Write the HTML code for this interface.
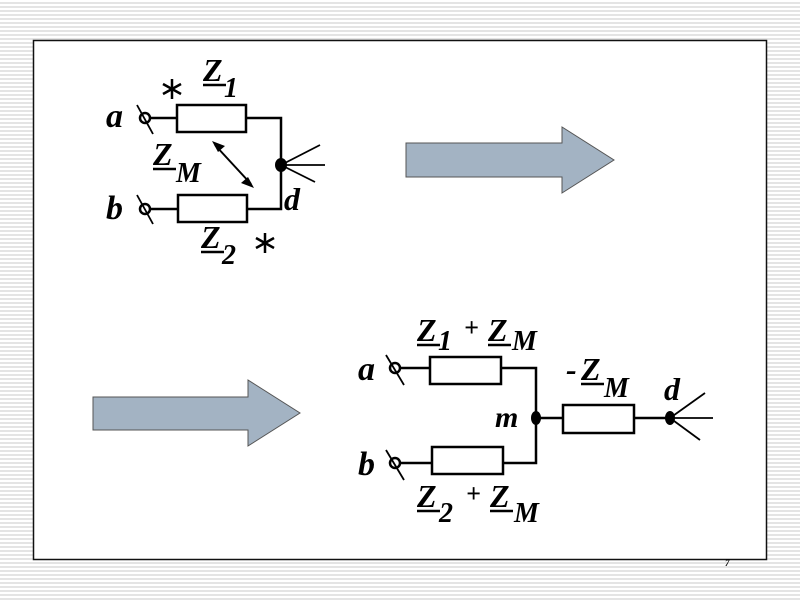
<!DOCTYPE html>
<html><head><meta charset="utf-8"><style>
html,body{margin:0;padding:0}
body{width:800px;height:600px;overflow:hidden;background:repeating-linear-gradient(to bottom,#fff 0,#fff 2px,#e4e4e4 2px,#e4e4e4 4px)}
svg{position:absolute;left:0;top:0}
text{font-family:"Liberation Serif",serif;font-weight:bold;font-style:italic;fill:#000}
</style></head><body>
<svg width="800" height="600" viewBox="0 0 800 600">
<rect x="33.5" y="40.5" width="733" height="519" fill="#fff" stroke="#111" stroke-width="1.5"/>
<g fill="#a3b3c3" stroke="#555" stroke-width="1">
<polygon points="406,143 562,143 562,127 614,160 562,193 562,177 406,177"/>
<polygon points="93,397 248,397 248,380 300,413 248,446 248,430 93,430"/>
</g>
<g stroke="#000" stroke-width="2.5" fill="none">
<line x1="149" y1="118" x2="177" y2="118"/>
<rect x="177" y="105" width="69" height="27" fill="#fff"/>
<polyline points="246,118 281,118 281,209 247,209"/>
<line x1="149" y1="209" x2="178" y2="209"/>
<rect x="178" y="195" width="69" height="27" fill="#fff"/>
<circle cx="145" cy="118" r="5" fill="#fff"/>
<circle cx="145" cy="209" r="5" fill="#fff"/>
<line x1="137" y1="105" x2="153" y2="134" stroke-width="1.8"/>
<line x1="137" y1="195" x2="153" y2="224" stroke-width="1.8"/>
<line x1="281" y1="165" x2="320" y2="145" stroke-width="1.8"/>
<line x1="281" y1="165" x2="325" y2="165" stroke-width="1.8"/>
<line x1="281" y1="165" x2="315" y2="182" stroke-width="1.8"/>
<line x1="215" y1="145" x2="251" y2="184" stroke-width="2"/>
<line x1="399" y1="368" x2="430" y2="368"/>
<rect x="430" y="357" width="71" height="27" fill="#fff"/>
<polyline points="501,368 536,368 536,463 503,463"/>
<line x1="399" y1="463" x2="432" y2="463"/>
<rect x="432" y="447" width="71" height="27" fill="#fff"/>
<line x1="536" y1="418" x2="563" y2="418"/>
<rect x="563" y="405" width="71" height="28" fill="#fff"/>
<line x1="634" y1="418" x2="670" y2="418"/>
<circle cx="395" cy="368" r="5" fill="#fff"/>
<circle cx="395" cy="463" r="5" fill="#fff"/>
<line x1="386" y1="355" x2="404" y2="385" stroke-width="1.8"/>
<line x1="386" y1="450" x2="404" y2="480" stroke-width="1.8"/>
<line x1="670" y1="418" x2="705" y2="393" stroke-width="1.8"/>
<line x1="670" y1="418" x2="713" y2="418" stroke-width="1.8"/>
<line x1="670" y1="418" x2="700" y2="440" stroke-width="1.8"/>
<!-- asterisks -->
<g stroke-width="2.5">
<line x1="172" y1="79" x2="172" y2="99"/><line x1="163" y1="84" x2="181" y2="94"/><line x1="163" y1="94" x2="181" y2="84"/>
<line x1="265" y1="233" x2="265" y2="253"/><line x1="256" y1="238" x2="274" y2="248"/><line x1="256" y1="248" x2="274" y2="238"/>
</g>
<!-- underlines -->
<g stroke-width="2.5">
<line x1="203" y1="85" x2="226" y2="85"/>
<line x1="153" y1="169" x2="176" y2="169"/>
<line x1="201" y1="252" x2="224" y2="252"/>
<line x1="417" y1="345" x2="440" y2="345"/>
<line x1="488" y1="345" x2="511" y2="345"/>
<line x1="581" y1="384" x2="604" y2="384"/>
<line x1="417" y1="511" x2="440" y2="511"/>
<line x1="490" y1="511" x2="513" y2="511"/>
</g>
</g>
<g fill="#000">
<polygon points="212,141 225,146 218,152"/>
<polygon points="254,188 241,183 248,177"/>
<ellipse cx="281" cy="165" rx="6" ry="7"/>
<ellipse cx="536" cy="418" rx="5" ry="7"/>
<ellipse cx="670" cy="418" rx="5" ry="7"/>
</g>
<g font-size="32">
<text x="106" y="127" font-size="34">a</text>
<text x="106" y="219" font-size="34">b</text>
<text x="203" y="81">Z</text><text x="224" y="97" font-size="28">1</text>
<text x="153" y="165">Z</text><text x="176" y="182" font-size="28">M</text>
<text x="284" y="210" font-size="32">d</text>
<text x="201" y="248">Z</text><text x="222" y="264" font-size="28">2</text>
<text x="358" y="380" font-size="34">a</text>
<text x="358" y="475" font-size="34">b</text>
<text x="495" y="427" font-size="30">m</text>
<text x="664" y="400" font-size="32">d</text>
<text x="417" y="341">Z</text><text x="438" y="350" font-size="28">1</text><text x="464" y="336" font-size="26" font-style="normal" font-weight="normal">+</text><text x="488" y="341">Z</text><text x="512" y="350" font-size="28">M</text>
<text x="566" y="380">-</text><text x="581" y="380">Z</text><text x="604" y="397" font-size="28">M</text>
<text x="417" y="507">Z</text><text x="439" y="522" font-size="28">2</text><text x="466" y="502" font-size="26" font-style="normal" font-weight="normal">+</text><text x="490" y="507">Z</text><text x="514" y="522" font-size="28">M</text>
</g>
<text x="725" y="566" font-size="9" font-style="normal" font-weight="normal" fill="#888">7</text>
</svg>
</body></html>
